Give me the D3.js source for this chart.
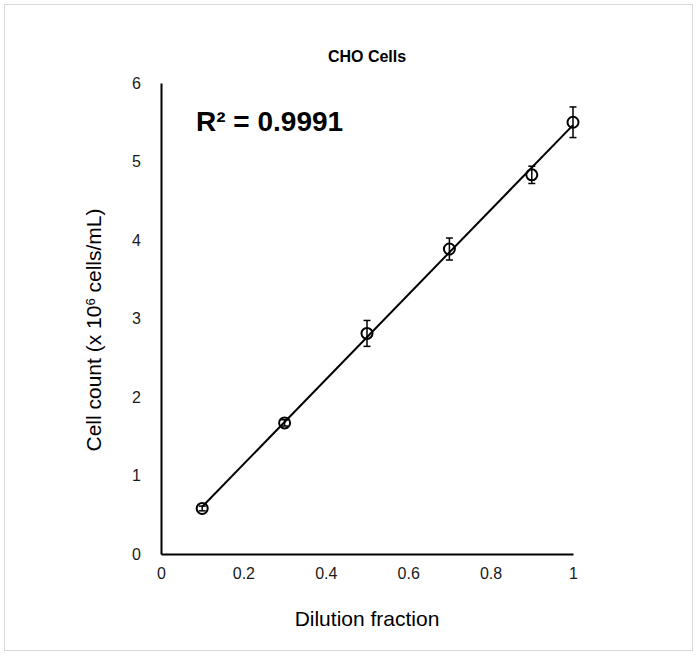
<!DOCTYPE html>
<html>
<head>
<meta charset="utf-8">
<script src="https://cdn.jsdelivr.net/npm/d3@7"></script>
<style>
  html, body { margin: 0; padding: 0; background: #fff; overflow: hidden; }
  svg { display: block; }
  text { font-family: "Liberation Sans", Arial, sans-serif; }
</style>
</head>
<body>
<div id="chart"></div>
<script>
// dilution fraction vs cell count (x 10^6 cells/mL)
const dilution = [0.1, 0.3, 0.5, 0.7, 0.9, 1.0];
const cellCount = [0.58, 1.67, 2.81, 3.885, 4.83, 5.50];
const errBar = [0.03, 0.04, 0.165, 0.14, 0.11, 0.195];
const xTicks = [0, 0.2, 0.4, 0.6, 0.8, 1];
const yTicks = [0, 1, 2, 3, 4, 5, 6];
const rSquared = "R² = 0.9991";

const width = 697;
const height = 657;
const margin = { top: 83, right: 124, bottom: 103, left: 161 };
const innerWidth = width - margin.left - margin.right;
const innerHeight = height - margin.top - margin.bottom;

const data = dilution.map((d, i) => ({ x: d, y: cellCount[i], e: errBar[i] }));

const svg = d3.select("#chart")
    .append("svg")
    .attr("width", width)
    .attr("height", height);

// chart area border
svg.append("rect")
    .attr("x", 4.5)
    .attr("y", 4.5)
    .attr("width", 688)
    .attr("height", 646)
    .attr("fill", "#fff")
    .attr("stroke", "#d9d9d9");

const innerChart = svg.append("g")
    .attr("transform", `translate(${margin.left}, ${margin.top})`);

const xScale = d3.scaleLinear().domain([0, 1]).range([0, innerWidth]);
const yScale = d3.scaleLinear().domain([0, 6]).range([innerHeight, 0]);

// axes
const bottomAxis = d3.axisBottom(xScale)
    .tickValues(xTicks)
    .tickSize(0)
    .tickPadding(14)
    .tickFormat(d3.format("~g"));
const xg = innerChart.append("g")
    .attr("transform", `translate(0, ${innerHeight})`)
    .call(bottomAxis);

const leftAxis = d3.axisLeft(yScale)
    .tickValues(yTicks)
    .tickSize(0)
    .tickPadding(20)
    .tickFormat(d3.format("d"));
const yg = innerChart.append("g").call(leftAxis);

[xg, yg].forEach(g => {
    g.attr("font-size", null).attr("font-family", null);
    g.select(".domain").attr("stroke", "#000").attr("stroke-width", 2);
    g.selectAll("text")
        .style("font-size", "16px")
        .attr("fill", "#1a1a1a");
});

// trend line (least squares)
const mx = d3.mean(data, d => d.x);
const my = d3.mean(data, d => d.y);
const slope = d3.sum(data, d => (d.x - mx) * (d.y - my)) / d3.sum(data, d => (d.x - mx) ** 2);
const intercept = my - slope * mx;
const xExt = d3.extent(dilution);

innerChart.append("line")
    .attr("x1", xScale(xExt[0]))
    .attr("y1", yScale(slope * xExt[0] + intercept))
    .attr("x2", xScale(xExt[1]))
    .attr("y2", yScale(slope * xExt[1] + intercept))
    .attr("stroke", "#000")
    .attr("stroke-width", 2);

// error bars
const eb = innerChart.selectAll(".err")
    .data(data)
    .join("g")
    .attr("class", "err")
    .attr("stroke", "#000")
    .attr("stroke-width", 1.5);
eb.append("line")
    .attr("x1", d => xScale(d.x)).attr("x2", d => xScale(d.x))
    .attr("y1", d => yScale(d.y - d.e)).attr("y2", d => yScale(d.y + d.e));
eb.append("line")
    .attr("x1", d => xScale(d.x) - 3.5).attr("x2", d => xScale(d.x) + 3.5)
    .attr("y1", d => yScale(d.y + d.e)).attr("y2", d => yScale(d.y + d.e));
eb.append("line")
    .attr("x1", d => xScale(d.x) - 3.5).attr("x2", d => xScale(d.x) + 3.5)
    .attr("y1", d => yScale(d.y - d.e)).attr("y2", d => yScale(d.y - d.e));

// markers
innerChart.selectAll("circle")
    .data(data)
    .join("circle")
    .attr("cx", d => xScale(d.x))
    .attr("cy", d => yScale(d.y))
    .attr("r", 5.5)
    .attr("fill", "none")
    .attr("stroke", "#000")
    .attr("stroke-width", 2);

// title
svg.append("text")
    .text("CHO Cells")
    .attr("x", margin.left + innerWidth / 2)
    .attr("y", 62)
    .attr("text-anchor", "middle")
    .style("font-size", "16px")
    .attr("font-weight", "bold");

// R squared label
svg.append("text")
    .text(rSquared)
    .attr("x", 196)
    .attr("y", 131)
    .style("font-size", "28px")
    .attr("font-weight", "bold");

// axis titles
svg.append("text")
    .text("Dilution fraction")
    .attr("x", margin.left + innerWidth / 2)
    .attr("y", 626)
    .attr("text-anchor", "middle")
    .style("font-size", "21px");

const yl = svg.append("text")
    .attr("transform", `translate(101, 330) rotate(-90)`)
    .attr("text-anchor", "middle")
    .style("font-size", "21px");
yl.append("tspan").text("Cell count (x 10");
yl.append("tspan").text("6").style("font-size", "13px").attr("dy", -6);
yl.append("tspan").text(" cells/mL)").attr("dy", 6);
</script>
</body>
</html>
